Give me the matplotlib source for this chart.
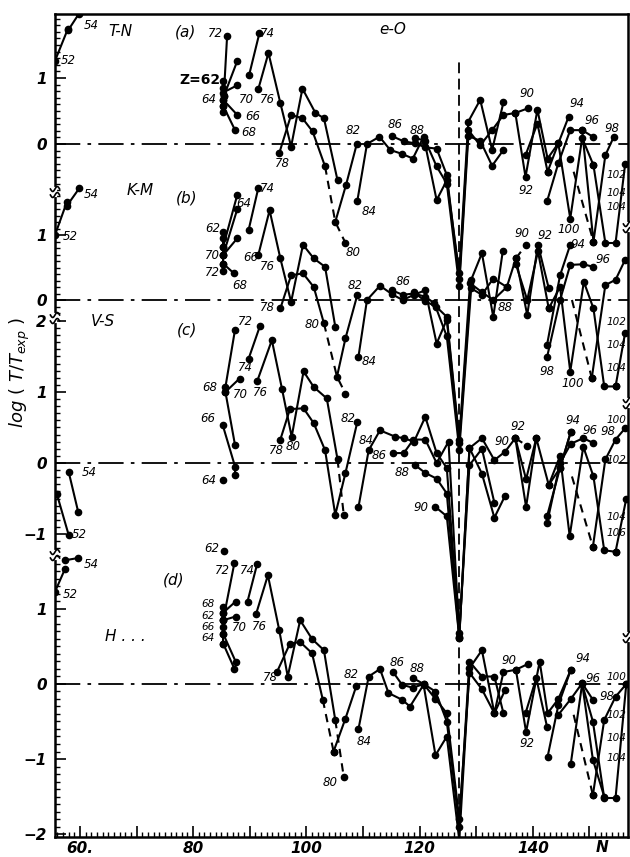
import numpy as np
import matplotlib
matplotlib.use("Agg")
import matplotlib.pyplot as plt
from matplotlib.transforms import blended_transform_factory

# ---------- panels: zero-line height and height of one unit (axis units) ----------
panel_geom = {"a": (693, 66), "b": (537, 65), "c": (374, 71), "d": (153, 75)}
panel_tick_range = {"a": (-0.7, 1.9), "b": (-0.2, 1.6), "c": (-1.2, 2.0), "d": (-2.0, 1.7)}

# ---------- panel (a)  T-N ----------
chains_a = [
    ([55.6, 57.9], [1.26, 1.75]),
    ([57.9, 59.8], [1.72, 1.97]),
    ([85.3, 85.3, 85.3, 85.3, 85.3], [0.95, 0.85, 0.67, 0.58, 0.49]),
    ([85.4, 86.0], [0.72, 1.64]),
    ([85.4, 87.8], [0.72, 1.26]),
    ([85.3, 87.8], [0.78, 0.89]),
    ([85.3, 87.8], [0.67, 0.44]),
    ([85.3, 87.4], [0.58, 0.21]),
    ([89.9, 91.7], [1.05, 1.68]),
    ([91.5, 93.3, 95.4, 97.3, 99.3, 101.6, 103.1, 105.5], [0.83, 1.38, 0.62, -0.04, 0.84, 0.47, 0.39, -0.55]),
    ([95.2, 97.3, 99.3, 101.1, 103.3], [-0.14, 0.44, 0.39, 0.19, -0.34]),
    ([105.1, 107.0, 108.9], [-1.18, -0.62, 0.0]),
    ([109.0, 110.7, 112.9, 114.8, 116.9, 118.8, 120.7, 123.0, 124.8, 127.0, 128.6, 130.7, 132.8, 134.8],
     [-0.86, 0.0, 0.11, -0.09, -0.15, -0.22, 0.11, -0.85, -0.55, -1.95, 0.34, 0.67, -0.09, 0.63]),
    ([115.1, 117.2, 119.2, 121.0, 123.0, 124.8, 127.0, 128.6, 130.7, 132.8, 134.8, 136.9, 139.1],
     [0.12, 0.04, 0.01, -0.05, -0.07, -0.47, -2.05, 0.21, -0.02, 0.21, 0.44, 0.47, 0.54]),
    ([119.2, 121.0, 123.0, 124.8, 127.0, 128.6, 130.7, 132.8, 134.8],
     [0.09, 0.05, -0.34, -0.6, -2.15, 0.12, 0.05, -0.33, -0.09]),
    ([136.9, 138.7, 140.8, 142.6, 144.5, 146.3], [0.47, -0.5, 0.52, -0.22, 0.01, 0.41]),
    ([138.7, 140.8, 142.6], [-0.17, 0.31, -0.42]),
    ([142.5, 144.5, 146.6, 148.7, 150.6], [-0.87, -0.29, 0.21, 0.21, 0.11]),
    ([142.6, 144.5, 146.6, 148.7, 150.7], [-0.42, 0.01, -1.13, 0.09, -0.32]),
    ([148.7, 150.7, 152.8, 154.3], [0.21, -1.48, -0.17, 0.11]),
    ([150.7, 152.8, 154.6, 156.3], [-0.32, -1.5, -1.5, -0.3]),
    ([146.6], [-0.22]),
]
dashed_a = [
    ([103.3, 105.1, 106.9], [-0.34, -1.18, -1.5]),
    ([147.2, 150.7], [-0.42, -1.48]),
]
labels_a = [
    (60.6, 1.8, "54", "left"), (56.7, 1.27, "52", "left"),
    (84.0, 1.68, "72", "center"), (82.7, 0.67, "64", "center"),
    (89.4, 0.67, "70", "center"), (90.6, 0.41, "66", "center"), (89.9, 0.18, "68", "center"),
    (93.1, 1.68, "74", "center"), (93.1, 0.67, "76", "center"), (95.7, -0.3, "78", "center"),
    (108.3, 0.21, "82", "center"), (111.0, -1.03, "84", "center"), (108.3, -1.64, "80", "center"),
    (115.7, 0.3, "86", "center"), (119.6, 0.2, "88", "center"),
    (139.0, 0.77, "90", "center"), (138.7, -0.7, "92", "center"), (147.8, 0.62, "94", "center"),
    (150.5, 0.36, "96", "center"), (154.0, 0.24, "98", "center"), (146.3, -1.3, "100", "center"),
]
edge_labels_a = [(-0.47, "102"), (-0.74, "104"), (-0.95, "104")]

# ---------- panel (b)  K-M ----------
chains_b = [
    ([55.6, 57.7], [1.0, 1.51]),
    ([57.7, 59.9], [1.45, 1.72]),
    ([85.3, 85.3, 85.3, 85.3, 85.3, 85.3], [1.05, 0.95, 0.82, 0.69, 0.56, 0.44]),
    ([85.3, 87.8], [0.82, 1.62]),
    ([85.3, 87.8], [0.69, 1.4]),
    ([85.3, 87.8], [0.69, 0.95]),
    ([85.3, 87.2], [0.56, 0.41]),
    ([89.8, 91.5], [1.08, 1.72]),
    ([91.5, 93.5, 95.4, 97.3, 99.4, 101.3, 103.3, 105.1], [0.69, 1.38, 0.64, -0.03, 0.85, 0.64, 0.51, -0.41]),
    ([95.4, 97.3, 99.4, 101.3, 103.1], [-0.13, 0.38, 0.41, 0.2, -0.36]),
    ([105.4, 106.9, 109.0], [-1.18, -0.59, 0.08]),
    ([109.2, 110.7, 113.0, 115.1, 117.0, 119.0, 121.0, 123.0, 124.8, 127.0, 129.1, 131.0, 133.0, 134.7],
     [-0.87, 0.0, 0.22, 0.09, 0.0, 0.08, 0.15, -0.67, -0.3, -2.2, 0.31, 0.72, -0.26, 0.76]),
    ([115.1, 117.0, 119.0, 121.0, 122.6, 124.8, 127.0, 129.1, 131.0, 133.0, 135.4],
     [0.15, 0.08, 0.1, 0.05, -0.05, -0.56, -2.3, 0.18, 0.08, 0.33, 0.2]),
    ([119.0, 121.0, 122.9, 124.8, 127.0, 128.9, 131.0, 133.0, 135.4, 137.0],
     [0.12, -0.02, -0.1, -0.26, -2.15, 0.26, 0.12, 0.0, 0.2, 0.64]),
    ([137.0, 139.0, 140.9, 142.8], [0.64, -0.23, 0.85, 0.18]),
    ([137.0, 139.0, 140.9, 142.8], [0.55, 0.0, 0.75, -0.13]),
    ([142.5, 144.8, 146.6], [-0.69, 0.38, 0.85]),
    ([142.5, 144.8, 146.6, 148.9, 150.7], [-0.88, 0.0, 0.54, 0.55, 0.51]),
    ([142.8, 144.8, 146.6, 149.0, 150.7, 152.6, 154.6], [-0.13, 0.2, -1.1, 0.28, -0.13, -1.33, -1.33]),
    ([150.4, 152.8, 154.6, 156.3], [-1.2, 0.23, 0.31, 0.62]),
    ([154.6, 156.3], [-1.33, -0.5]),
]
dashed_b = [
    ([103.1, 105.4, 106.9], [-0.36, -1.18, -1.44]),
    ([137.0, 138.8], [0.64, 0.85]),
    ([146.9, 150.4], [0.0, -1.2]),
]
labels_b = [
    (60.6, 1.62, "54", "left"), (56.9, 0.97, "52", "left"),
    (83.5, 1.1, "62", "center"), (83.4, 0.69, "70", "center"), (83.4, 0.43, "72", "center"),
    (89.0, 1.49, "64", "center"), (90.1, 0.66, "66", "center"), (88.3, 0.23, "68", "center"),
    (93.1, 1.72, "74", "center"), (93.1, 0.51, "76", "center"), (93.1, -0.12, "78", "center"),
    (101.0, -0.38, "80", "center"), (108.6, 0.23, "82", "center"), (111.0, -0.95, "84", "center"),
    (117.1, 0.28, "86", "center"), (135.1, -0.12, "88", "center"),
    (138.1, 1.03, "90", "center"), (142.2, 1.0, "92", "center"), (148.0, 0.85, "94", "center"),
    (152.3, 0.62, "96", "center"), (142.5, -1.1, "98", "center"), (147.0, -1.28, "100", "center"),
]
edge_labels_b = [(-0.34, "102"), (-0.69, "104"), (-1.05, "104")]

# ---------- panel (c)  V-S ----------
chains_c = [
    ([55.9, 58.0], [-0.43, -1.01]),
    ([58.0, 59.7], [-0.12, -0.69]),
    ([85.7, 87.4], [1.07, 1.88]),
    ([85.7, 87.4], [1.0, 0.25]),
    ([85.7, 88.2], [1.0, 1.19]),
    ([85.2, 87.4, 87.4], [0.54, -0.05, -0.17]),
    ([85.2], [-0.24]),
    ([89.8, 91.8], [1.47, 1.93]),
    ([91.3, 93.9, 95.7, 97.4, 99.5, 101.3, 103.6, 105.5], [1.15, 1.73, 1.04, 0.37, 1.29, 1.07, 0.91, 0.05]),
    ([95.4, 97.1, 99.5, 101.3, 103.3, 105.1, 106.9, 109.0], [0.33, 0.76, 0.77, 0.56, 0.18, -0.73, -0.14, 0.58]),
    ([109.2, 111.0, 113.0, 115.7, 117.2, 119.0, 121.0, 123.0, 124.8, 127.0, 128.8, 131.0, 133.2, 135.1, 136.9],
     [-0.62, 0.18, 0.46, 0.37, 0.35, 0.3, 0.65, 0.14, -0.07, -2.45, 0.21, 0.35, 0.04, 0.16, 0.35]),
    ([115.3, 117.2, 118.9, 121.0, 123.0, 125.1, 127.0, 128.8, 131.0, 133.2],
     [0.14, 0.14, 0.33, 0.33, 0.0, 0.3, -2.4, -0.03, 0.2, -0.56]),
    ([119.2, 121.0, 123.0, 124.8, 127.0, 128.8, 131.0, 133.2, 135.1],
     [-0.03, -0.14, -0.22, -0.43, -2.46, 0.21, -0.15, -0.77, -0.46]),
    ([122.8, 124.8, 127.0], [-0.62, -0.75, -2.46]),
    ([136.9, 138.8, 140.6, 142.8, 144.8, 146.7], [0.35, -0.62, 0.35, -0.31, -0.07, 0.44]),
    ([136.9, 138.8, 140.6], [0.35, -0.23, 0.35]),
    ([142.5, 144.8, 146.7], [-0.75, -0.07, 0.44]),
    ([142.5, 144.8, 146.7, 148.9, 150.7], [-0.85, 0.0, 0.27, 0.35, 0.28]),
    ([142.8, 144.8, 146.5, 148.9, 150.7, 152.6, 154.6], [-0.31, 0.1, -1.03, 0.23, -0.19, -1.23, -1.25]),
    ([150.6, 152.8, 154.6, 156.3], [-1.18, 0.05, 0.33, 0.49]),
    ([154.6, 156.5], [-1.25, -0.5]),
]
dashed_c = [
    ([105.5, 106.6], [0.05, -0.73]),
    ([136.9, 139.0], [0.35, 0.24]),
    ([146.9, 150.6], [-0.19, -1.18]),
]
labels_c = [
    (60.4, -0.14, "54", "left"), (58.6, -1.01, "52", "left"),
    (89.2, 2.0, "72", "center"), (89.2, 1.34, "74", "center"), (83.0, 1.07, "68", "center"),
    (88.3, 0.97, "70", "center"), (91.8, 1.0, "76", "center"), (82.5, 0.63, "66", "center"),
    (82.8, -0.24, "64", "center"), (94.7, 0.18, "78", "center"), (97.7, 0.23, "80", "center"),
    (107.4, 0.63, "82", "center"), (110.6, 0.31, "84", "center"), (112.9, 0.1, "86", "center"),
    (116.9, -0.14, "88", "center"), (120.3, -0.62, "90", "center"),
    (134.6, 0.3, "90", "center"), (137.4, 0.51, "92", "center"), (147.1, 0.6, "94", "center"),
    (150.0, 0.46, "96", "center"), (153.3, 0.44, "98", "center"),
]
edge_labels_c = [(0.6, "100"), (0.04, "102"), (-0.76, "104"), (-0.99, "106")]

# ---------- panel (d)  H... ----------
chains_d = [
    ([55.6, 57.4], [1.23, 1.54]),
    ([57.4, 59.7], [1.65, 1.68]),
    ([85.5], [1.77]),
    ([85.3, 85.3, 85.3, 85.3, 85.3, 85.3], [1.03, 0.95, 0.85, 0.76, 0.67, 0.54]),
    ([85.3, 87.3], [0.85, 1.62]),
    ([85.3, 87.5], [0.95, 1.1]),
    ([85.3, 87.5], [0.85, 0.9]),
    ([85.3, 87.5], [0.67, 0.3]),
    ([85.3, 87.3], [0.54, 0.2]),
    ([89.6, 91.3], [1.1, 1.6]),
    ([91.1, 93.2, 95.2, 96.7, 98.9, 101.0, 103.1, 105.1], [0.93, 1.45, 0.72, 0.1, 0.85, 0.6, 0.45, -0.48]),
    ([94.8, 97.1, 98.9, 101.0, 102.9], [0.16, 0.54, 0.56, 0.41, -0.21]),
    ([104.8, 106.9, 108.8], [-0.9, -0.46, -0.03]),
    ([109.2, 111.0, 113.0, 114.5, 116.9, 118.3, 120.7, 122.8, 124.8, 127.0, 128.8, 131.0, 133.2, 134.8, 137.0, 139.2],
     [-0.6, 0.1, 0.2, -0.12, -0.21, -0.3, -0.01, -0.95, -0.7, -2.08, 0.21, 0.45, -0.39, 0.16, 0.19, 0.27]),
    ([115.3, 116.9, 118.8, 120.7, 122.8, 124.8, 127.0, 128.8, 131.0, 133.2, 134.8],
     [0.16, -0.01, -0.05, 0.0, -0.1, -0.5, -1.9, 0.3, 0.1, 0.1, -0.39]),
    ([118.8, 120.7, 122.8, 124.8, 127.0, 128.8, 131.0, 133.2, 135.1],
     [0.08, 0.0, -0.2, -0.39, -1.8, 0.15, -0.07, -0.39, -0.08]),
    ([137.0, 138.8, 141.2, 142.6, 144.5, 146.7], [0.19, -0.64, 0.3, -0.39, -0.2, 0.19]),
    ([138.7, 140.6, 142.5], [-0.39, 0.08, -0.57]),
    ([142.6, 144.5, 146.7], [-0.97, -0.28, 0.19]),
    ([144.5, 146.7, 148.7, 150.6], [-0.41, -0.2, 0.01, -0.21]),
    ([146.7, 148.7, 150.6, 152.6, 154.6, 156.5], [-1.06, 0.0, -0.5, -1.52, -1.52, 0.0]),
    ([150.6, 152.6, 154.6, 156.5], [-1.48, -0.48, -0.17, 0.0]),
    ([148.7, 150.6, 152.6], [0.01, -1.01, -1.5]),
]
dashed_d = [
    ([102.9, 104.8], [-0.21, -0.9]),
    ([105.1, 106.6], [-0.48, -1.24]),
    ([147.2, 150.6], [-0.41, -1.48]),
]
labels_d = [
    (60.6, 1.59, "54", "left"), (56.9, 1.2, "52", "left"),
    (83.2, 1.81, "62", "center"), (85.1, 1.52, "72", "center"), (89.5, 1.52, "74", "center"),
    (88.1, 0.75, "70", "center"), (91.7, 0.76, "76", "center"),
    (93.6, 0.09, "78", "center"), (107.9, 0.12, "82", "center"), (110.2, -0.77, "84", "center"),
    (104.2, -1.32, "80", "center"), (116.0, 0.29, "86", "center"), (119.6, 0.21, "88", "center"),
    (135.7, 0.32, "90", "center"), (139.0, -0.79, "92", "center"), (148.9, 0.34, "94", "center"),
    (150.7, 0.08, "96", "center"), (153.1, -0.17, "98", "center"),
]
stack_labels_d = [(1.07, "68"), (0.91, "62"), (0.76, "66"), (0.61, "64")]
edge_labels_d = [(0.1, "100"), (-0.41, "102"), (-0.72, "104"), (-0.99, "104")]

panel_titles = [("a", 67.1, 1.7, "T-N"), ("a", 78.6, 1.7, "(a)"), ("a", 115.2, 1.73, "e-O"),
                ("b", 70.6, 1.69, "K-M"), ("b", 78.9, 1.57, "(b)"),
                ("c", 64.1, 1.99, "V-S"), ("c", 78.9, 1.87, "(c)"),
                ("d", 76.5, 1.39, "(d)"), ("d", 68.0, 0.63, "H . . .")]

x_major = [60, 70, 80, 90, 100, 110, 120, 130, 140, 150]
x_labels = ["60.", "", "80", "", "100", "", "120", "", "140", ""]
magic_n = 127


def to_y(panel, v):
    base, scale = panel_geom[panel]
    return base + np.asarray(v, dtype=float) * scale


fig = plt.figure(figsize=(6.3, 8.57), dpi=100)
ax = fig.add_axes([55 / 630, 20 / 857, 573 / 630, 823 / 857])
ax.set_xlim(55.6, 156.8)
ax.set_ylim(0, 823)

for p, chains, dashed in [("a", chains_a, dashed_a), ("b", chains_b, dashed_b),
                          ("c", chains_c, dashed_c), ("d", chains_d, dashed_d)]:
    for n, v in chains:
        ax.plot(n, to_y(p, v), "-o", color="black", lw=1.5, ms=4.5, solid_joinstyle="round")
    for n, v in dashed:
        ax.plot(n, to_y(p, v), color="black", lw=1.5, ls=(0, (4, 3)))
        ax.plot(n[-1:], to_y(p, v[-1:]), "o", color="black", ms=4.5)
    # zero line, dash-dot
    ax.axhline(to_y(p, 0), color="black", lw=1.3, ls=(0, (14, 4, 2, 4)))

for p, labels in [("a", labels_a), ("b", labels_b), ("c", labels_c), ("d", labels_d)]:
    for n, v, s, ha in labels:
        ax.text(n, to_y(p, v), s, fontsize=8.5, style="italic", ha=ha, va="center")

# labels squeezed against the right frame
for p, labels in [("a", edge_labels_a), ("b", edge_labels_b), ("c", edge_labels_c), ("d", edge_labels_d)]:
    for v, s in labels:
        ax.text(156.5, to_y(p, v), s, fontsize=7.5, style="italic", ha="right", va="center")

for v, s in stack_labels_d:
    ax.text(82.7, to_y("d", v), s, fontsize=7.5, style="italic", ha="center", va="center")

for p, n, v, s in panel_titles:
    ax.text(n, to_y(p, v), s, fontsize=11, style="italic", ha="center", va="center")

# "Z=" in front of the 62 of panel (a)
ax.text(81.2, to_y("a", 0.97), "Z=62", fontsize=10, fontweight="bold", ha="center", va="center")

# magic-number marker
ax.plot([magic_n, magic_n], [0, 775], color="black", lw=1.3, ls=(0, (6, 3)))

# ---------- axes, ticks ----------
for s in ax.spines.values():
    s.set_linewidth(1.8)

ax.set_xticks(x_major)
ax.set_xticklabels(x_labels, fontsize=11, style="italic", fontweight="bold")
ax.set_xticks(np.arange(56, 157, 1), minor=True)
ax.text(152.3, -11, "N", fontsize=11, style="italic", fontweight="bold", ha="center", va="center")

maj_y, maj_lab, min_y = [], [], []
for p, (lo, hi) in panel_tick_range.items():
    for k in range(int(np.ceil(lo)), int(np.floor(hi)) + 1):
        maj_y.append(float(to_y(p, k)))
        maj_lab.append("\u22121" if k == -1 else ("\u22122" if k == -2 else str(k)))
    for t in np.arange(lo, hi + 1e-6, 0.1):
        min_y.append(float(to_y(p, t)))
ax.set_yticks(maj_y)
ax.set_yticklabels(maj_lab, fontsize=11, style="italic", fontweight="bold")
ax.set_yticks(min_y, minor=True)
ax.tick_params(which="major", direction="in", length=8, width=1.2, pad=6)
ax.tick_params(which="minor", direction="in", length=3.5, width=1.0)
ax.tick_params(axis="x", which="major", pad=3)
ax.tick_params(top=False, right=False)

# axis breaks on the left and right spines
tr = blended_transform_factory(ax.transAxes, ax.transData)
t = np.linspace(-1, 1, 20)
for xa, ys in [(0.0, [645, 519, 282]), (1.0, [610, 434, 200])]:
    for yb in ys:
        ax.plot([xa, xa], [yb - 3, yb + 3], color="white", lw=3, transform=tr, clip_on=False, zorder=5)
        for dy in (-3, 3):
            ax.plot(xa + 0.008 * t, yb + dy + 2.5 * np.sin(np.pi * t), color="black", lw=1.2,
                    transform=tr, clip_on=False, zorder=6)

fig.text(20 / 630, 1 - 372 / 857, r"$log\ (\ T/T_{exp}\ )$", rotation=90, fontsize=13,
         ha="center", va="center")

fig.savefig("out.png", dpi=100)
